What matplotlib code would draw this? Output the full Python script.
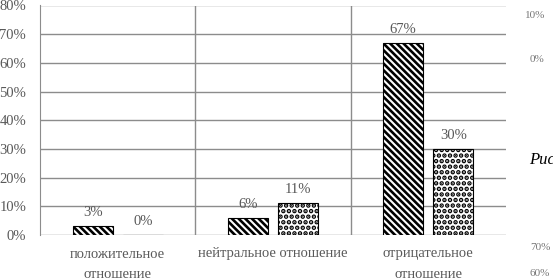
import numpy as np
import matplotlib.pyplot as plt

# ---------------------------
# Dane
# ---------------------------
categories = ["положительное\nотношение", "нейтральное отношение", "отрицательное\nотношение"]
series_a = [3, 6, 67]
series_b = [0, 11, 30]
y_ticks = [0, 10, 20, 30, 40, 50, 60, 70, 80]

plt.rcParams['font.family'] = ['Liberation Serif', 'DejaVu Serif']
txt_color = '#595959'
grid_color = '#8c8c8c'

fig = plt.figure(figsize=(5.53, 2.80), dpi=100)
ax = fig.add_axes([40 / 553, 45 / 280, 466 / 553, 229.5 / 280])

x = np.arange(len(categories))
w = 0.258
gap = 0.065

with plt.rc_context({'hatch.linewidth': 1.9}):
    bars_a = ax.bar(x - gap / 2 - w / 2, series_a, w, color='white', edgecolor='black',
                    hatch='\\' * 5, linewidth=0.8, zorder=3)
with plt.rc_context({'hatch.linewidth': 2.3}):
    bars_b = ax.bar(x + gap / 2 + w / 2, series_b, w, color='white', edgecolor='black',
                    hatch='...', linewidth=0.8, zorder=3)

for bars, vals in [(bars_a, series_a), (bars_b, series_b)]:
    for b, v in zip(bars, vals):
        ax.text(b.get_x() + b.get_width() / 2, v + 2.5, f"{v}%", ha='center', va='bottom',
                fontsize=10.5, color=txt_color)

ax.set_xlim(-0.5, len(categories) - 0.5)
ax.set_ylim(0, 80)
ax.set_yticks(y_ticks)
ax.set_yticklabels([f"{t}%" for t in y_ticks])
ax.yaxis.grid(True, color=grid_color, linewidth=1)
ax.set_axisbelow(True)

# pionowe separatory kategorii
for s in np.arange(0.5, len(categories) - 1, 1.0):
    ax.axvline(s, color=grid_color, linewidth=1, zorder=1)

ax.set_xticks(x)
ax.set_xticklabels(categories, linespacing=1.7)
ax.tick_params(axis='both', length=0, labelsize=10.5, colors=txt_color)
ax.tick_params(axis='x', pad=9)
ax.tick_params(axis='y', pad=10)
for side in ['top', 'right', 'bottom']:
    ax.spines[side].set_visible(False)
ax.spines['left'].set_color(grid_color)

# fragmenty sąsiedniej strony
fig.text(525 / 553, 1 - 15 / 280, "10%", fontsize=8, color='#777777', va='center')
fig.text(530 / 553, 1 - 59 / 280, "0%", fontsize=8, color='#777777', va='center')
fig.text(529 / 553, 1 - 160 / 280, "Рис", fontsize=12, style='italic', color='black', va='center')
fig.text(530 / 553, 1 - 248 / 280, "70%", fontsize=8, color='#777777', va='center')
fig.text(530 / 553, 1 - 274 / 280, "60%", fontsize=8, color='#777777', va='center')

fig.savefig("out.png", dpi=100)
